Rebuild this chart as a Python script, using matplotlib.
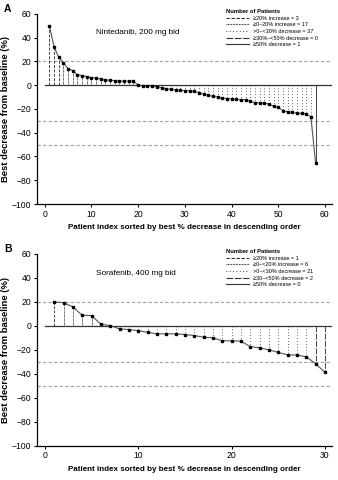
import matplotlib
matplotlib.use("Agg")
import matplotlib.pyplot as plt
from matplotlib.lines import Line2D
import numpy as np

plt.rcParams['font.family'] = ['Liberation Sans', 'DejaVu Sans']

# Panel A: nintedanib, best % change per patient (sorted)
nint_vals = [50, 32, 23.5, 19, 13.7, 12.3, 8.7, 8.1, 7.3, 6.4,
             5.9, 5.3, 4.2, 4.2, 3.9, 3.4, 3.4, 3.4, 3.4, 0,
             -0.5, -0.7, -0.8, -1.2, -2.2, -3.0, -3.4, -3.8, -4.3, -4.6,
             -4.9, -5.3, -6.2, -7.5, -8.5, -9.3, -9.8, -10.9, -11.2, -11.5,
             -12.0, -12.3, -12.3, -13.4, -14.8, -14.8, -15.4, -15.6, -17.9, -18.5,
             -21.5, -22.4, -22.9, -23.5, -23.8, -24.0, -26.9, -65.2]
nint_legend = ["\u226520% increase = 3", "\u22650\u201320% increase = 17",
               ">0\u2013<30% decrease = 37", "\u226530%\u2013<50% decrease = 0",
               "\u226550% decrease = 1"]

# Panel B: sorafenib
sora_vals = [20, 19.4, 15.8, 8.9, 8.6, 1.4, 0.3, -2.5, -3.0, -3.9,
             -5.3, -6.6, -6.6, -6.6, -7.2, -8.0, -9.4, -9.9, -12.4, -12.4,
             -12.7, -17.2, -18.3, -19.9, -22.1, -24.1, -24.3, -25.7, -31.5, -38.7]
sora_legend = ["\u226520% increase = 1", "\u22650\u2013<20% increase = 6",
               ">0\u2013<30% decrease = 21", "\u226530\u2013<50% decrease = 2",
               "\u226550% decrease = 0"]

styles = [(0, (3, 1.5)), (0, (0.8, 0.6)), (0, (0.8, 2.2)), (0, (6, 1.5)), '-']
dropc = '#444444'


def category(v):
    if v >= 20:
        return 0
    if v >= 0:
        return 1
    if v > -30:
        return 2
    if v > -50:
        return 3
    return 4


def panel(ax, vals, xticks, xlim, letter, label, leg_labels):
    x = np.arange(1, len(vals) + 1)
    for ref in [20, -30, -50]:
        ax.axhline(ref, color='#a0a0a0', lw=0.8, ls=(0, (3, 2)), zorder=1)
    ax.plot([0, xlim[1]], [0, 0], color='#333333', lw=0.9, zorder=2)
    for xi, v in zip(x, vals):
        ax.plot([xi, xi], [0, v], color=dropc, lw=0.7,
                ls=styles[category(v)], zorder=2)
    ax.plot(x, vals, color='#555555', lw=0.8, marker='s', ms=1.8,
            mfc='black', mec='black', zorder=3)
    ax.set_xlim(*xlim)
    ax.set_ylim(-100, 60)
    ax.set_yticks(range(-100, 61, 20))
    ax.set_yticklabels([str(t).replace('-', '\u2212') for t in range(-100, 61, 20)])
    ax.set_xticks(xticks)
    for s in ['top', 'right']:
        ax.spines[s].set_visible(False)
    for s in ['left', 'bottom']:
        ax.spines[s].set_linewidth(0.9)
    ax.tick_params(labelsize=6.2, length=2.5, width=0.8, pad=1.5)
    ax.set_ylabel("Best decrease from baseline (%)", fontsize=6.8,
                  fontweight='bold', labelpad=1.5)
    ax.set_xlabel("Patient index sorted by best % decrease in descending order",
                  fontsize=5.8, fontweight='bold', labelpad=4)
    ax.text(-0.112, 1.0, letter, transform=ax.transAxes, fontsize=7.5,
            fontweight='bold', va='bottom')
    ax.text(0.2, 0.9, label, transform=ax.transAxes, fontsize=5.9, va='center')
    handles = [Line2D([], [], color='#333333', lw=0.8, ls=st) for st in styles]
    leg = ax.legend(handles, leg_labels, loc='upper left',
                    bbox_to_anchor=(0.63, 1.04), frameon=False, fontsize=4,
                    title="Number of Patients", title_fontsize=4.2,
                    handlelength=4.2, handletextpad=0.7, labelspacing=0.3,
                    borderpad=0, alignment='left')
    leg.get_title().set_fontweight('bold')


fig = plt.figure(figsize=(3.38, 4.8), dpi=100)
ax1 = fig.add_axes([0.109, 0.575, 0.873, 0.396])
ax2 = fig.add_axes([0.109, 0.071, 0.873, 0.400])
panel(ax1, nint_vals, range(0, 61, 10), (-1.7, 61.5), "A",
      "Nintedanib, 200 mg bid", nint_legend)
panel(ax2, sora_vals, range(0, 31, 10), (-0.86, 30.75), "B",
      "Sorafenib, 400 mg bid", sora_legend)
fig.savefig("out.png", dpi=100)
